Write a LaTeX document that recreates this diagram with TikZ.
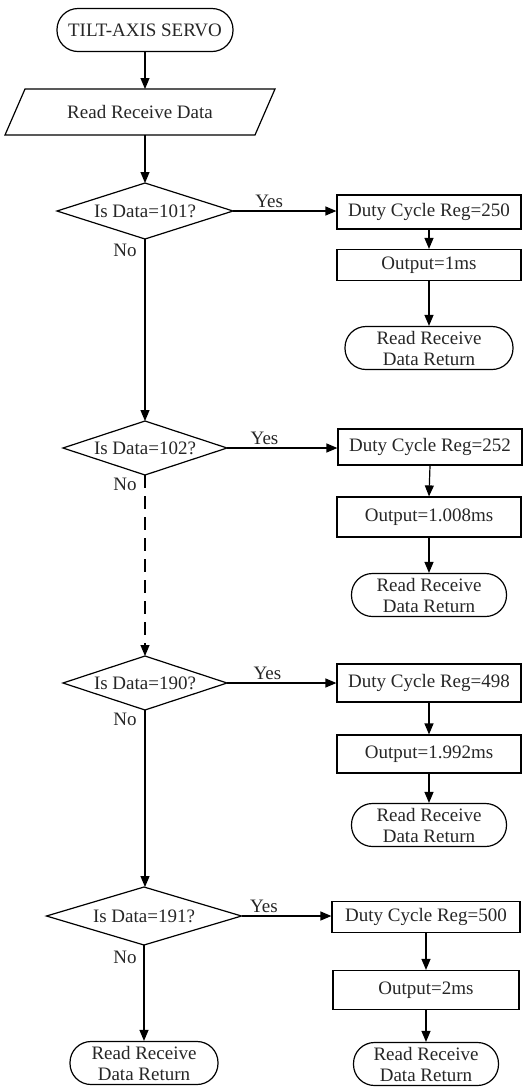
\documentclass[tikz,border=0pt]{standalone}
\usepackage{fontspec}
\setmainfont{Liberation Serif}
\usetikzlibrary{arrows.meta}
\begin{document}
\begin{tikzpicture}[x=1pt,y=-1pt,line width=1.2pt,
  every node/.style={font=\fontsize{19}{21}\selectfont, inner sep=0pt, text=black!85},
  term/.style={draw, rounded corners=21pt, minimum width=#1, minimum height=43pt, align=center},
  procbox/.style={draw, minimum width=184pt, minimum height=#1},
  decision/.style n args={2}{minimum width=#1, minimum height=#2, outer sep=0pt},
  arr/.style={-{Triangle[length=11pt,width=9pt]}},
  lbl/.style={inner sep=0pt}
]
\useasboundingbox (0,0) rectangle (526,1088);

% left column
\node[term=176pt] (start) at (145,30) {TILT-AXIS SERVO};
\node[minimum width=250pt, minimum height=46pt, outer sep=0pt] (inp) at (140,112) {Read Receive Data};
\draw ([xshift=10pt]inp.north west) -- ([xshift=10pt]inp.north east) -- ([xshift=-10pt]inp.south east) -- ([xshift=-10pt]inp.south west) -- cycle;

\node[decision={176pt}{56pt}] (d1) at (145,211) {Is Data=101?};
\node[decision={164pt}{54pt}] (d2) at (145,448) {Is Data=102?};
\node[decision={164pt}{54pt}] (d3) at (145,683) {Is Data=190?};
\node[decision={195pt}{58pt}] (d4) at (144,916) {Is Data=191?};
\foreach \d in {d1,d2,d3,d4}
  \draw (\d.north) -- (\d.east) -- (\d.south) -- (\d.west) -- cycle;

\node[term=148pt] (tl) at (144,1063) {Read Receive\\Data Return};

% right column
\node[procbox=34pt] (b1) at (429,212) {Duty Cycle Reg=250};
\node[procbox=31pt] (o1) at (429,265) {Output=1ms};
\node[term=168pt] (t1) at (429,348) {Read Receive\\Data Return};

\node[procbox=36pt] (b2) at (430,447) {Duty Cycle Reg=252};
\node[procbox=40pt] (o2) at (429,517) {Output=1.008ms};
\node[term=155pt] (t2) at (429,595) {Read Receive\\Data Return};

\node[procbox=38pt] (b3) at (429,683) {Duty Cycle Reg=498};
\node[procbox=38pt] (o3) at (429,754) {Output=1.992ms};
\node[term=155pt] (t3) at (429,825) {Read Receive\\Data Return};

\node[procbox=31pt, minimum width=188pt] (b4) at (426,917) {Duty Cycle Reg=500};
\node[procbox=39pt, minimum width=186pt] (o4) at (426,990) {Output=2ms};
\node[term=145pt] (t4) at (426,1064) {Read Receive\\Data Return};

% main flow
\draw[arr] (start.south) -- (start.south |- inp.north);
\draw[arr] (d1.north |- inp.south) -- (d1.north);
\draw[arr] (d1.south) -- (d2.north);
\draw[arr, dash pattern=on 13pt off 8pt] (d2.south) -- (d3.north);
\draw[arr] (d3.south) -- (d3.south |- d4.north);
\draw[arr] (d4.south) -- (tl.north);

% No labels
\node[lbl] (no1) at (125,250) {No};
\node[lbl] (no2) at (125,484) {No};
\node[lbl] (no3) at (125,719) {No};
\node[lbl] (no4) at (125,957) {No};

% Yes branches
\draw[arr] (d1.east) -- (d1.east -| b1.west) node[pos=0.35, above=3pt] {Yes};
\draw[arr] (d2.east) -- (d2.east -| b2.west) node[pos=0.34, above=3pt] {Yes};
\draw[arr] (d3.east) -- (d3.east -| b3.west) node[pos=0.37, above=3pt] {Yes};
\draw[arr] (d4.east) -- (d4.east -| b4.west) node[pos=0.25, above=3pt] {Yes};

\draw[arr] (b1.south) -- (o1.north);
\draw[arr] (o1.south) -- (t1.north);
\draw[arr] (b2.south) -- (o2.north);
\draw[arr] (o2.south) -- (t2.north);
\draw[arr] (b3.south) -- (o3.north);
\draw[arr] (o3.south) -- (t3.north);
\draw[arr] (b4.south) -- (o4.north);
\draw[arr] (o4.south) -- (t4.north);
\end{tikzpicture}
\end{document}
